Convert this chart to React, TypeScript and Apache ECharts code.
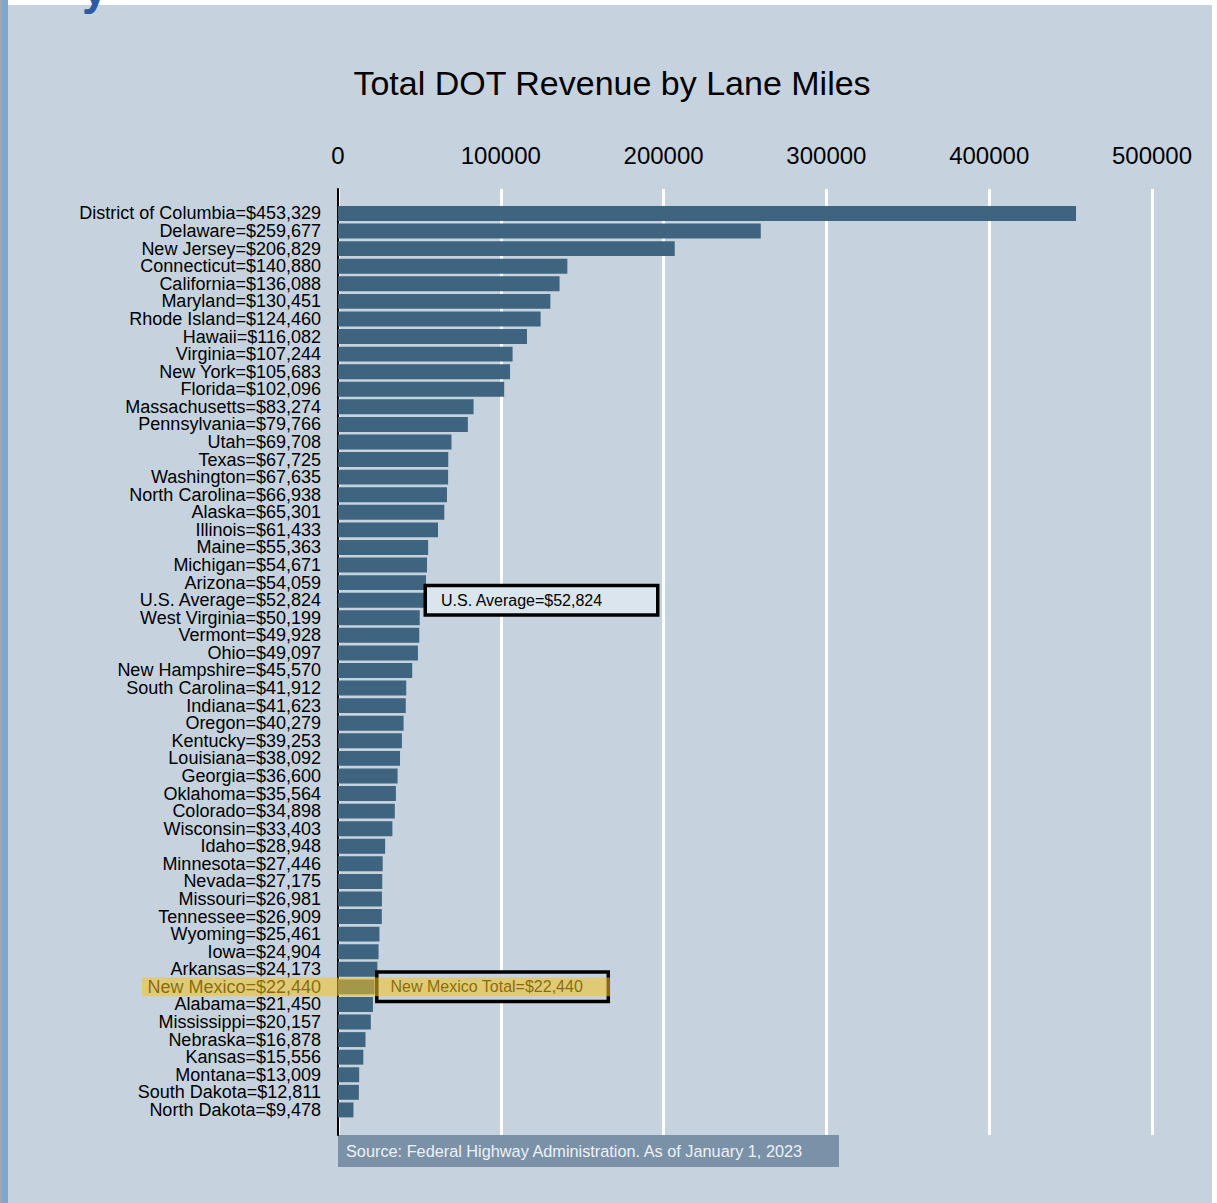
import React, { useEffect, useRef } from "react";
import * as echarts from "echarts";

const states: string[] = [
  "District of Columbia", "Delaware", "New Jersey", "Connecticut", "California", "Maryland",
  "Rhode Island", "Hawaii", "Virginia", "New York", "Florida", "Massachusetts", "Pennsylvania",
  "Utah", "Texas", "Washington", "North Carolina", "Alaska", "Illinois", "Maine", "Michigan",
  "Arizona", "U.S. Average", "West Virginia", "Vermont", "Ohio", "New Hampshire", "South Carolina",
  "Indiana", "Oregon", "Kentucky", "Louisiana", "Georgia", "Oklahoma", "Colorado", "Wisconsin",
  "Idaho", "Minnesota", "Nevada", "Missouri", "Tennessee", "Wyoming", "Iowa", "Arkansas",
  "New Mexico", "Alabama", "Mississippi", "Nebraska", "Kansas", "Montana", "South Dakota",
  "North Dakota",
];

const revenue: number[] = [
  453329, 259677, 206829, 140880, 136088, 130451, 124460, 116082, 107244, 105683, 102096,
  83274, 79766, 69708, 67725, 67635, 66938, 65301, 61433, 55363, 54671, 54059, 52824,
  50199, 49928, 49097, 45570, 41912, 41623, 40279, 39253, 38092, 36600, 35564, 34898,
  33403, 28948, 27446, 27175, 26981, 26909, 25461, 24904, 24173, 22440, 21450, 20157,
  16878, 15556, 13009, 12811, 9478,
];

const xTicks: number[] = [0, 100000, 200000, 300000, 400000, 500000];

const TITLE = "Total DOT Revenue by Lane Miles";
const SOURCE = "Source: Federal Highway Administration. As of January 1, 2023";
const AVG_NAME = "U.S. Average";
const HIGHLIGHT_NAME = "New Mexico";

const FONT = "'Liberation Sans', Arial, sans-serif";
const BG = "#c6d3df";
const BAR = "#3e6480";

const fmt = (v: number) => "$" + v.toLocaleString("en-US");
const categories = states.map((s, i) => `${s}=${fmt(revenue[i])}`);

export default function App() {
  const ref = useRef<HTMLDivElement>(null);

  useEffect(() => {
    document.body.style.margin = "0";
    if (!ref.current) return;
    const chart = echarts.init(ref.current, null, { renderer: "svg" });

    const avgIdx = states.indexOf(AVG_NAME);
    const nmIdx = states.indexOf(HIGHLIGHT_NAME);

    const data = revenue.map((v, i) => {
      if (i === avgIdx) {
        return {
          value: v,
          label: {
            show: true,
            position: "right",
            distance: 3,
            formatter: `${AVG_NAME}=${fmt(v)}`,
            fontFamily: FONT,
            fontSize: 16,
            color: "#000",
            backgroundColor: "#dbe5ed",
            borderColor: "#000",
            borderWidth: 3.5,
            padding: [6, 0, 4, 14],
            width: 215,
            lineHeight: 16,
          },
        };
      }
      if (i === nmIdx) {
        return {
          value: v,
          label: {
            show: true,
            position: "right",
            distance: 4,
            formatter: `${HIGHLIGHT_NAME} Total=${fmt(v)}`,
            fontFamily: FONT,
            fontSize: 16,
            color: "#000",
            backgroundColor: BG,
            borderColor: "#000",
            borderWidth: 3.5,
            padding: [4, 0, 6, 12],
            width: 216,
            lineHeight: 16,
          },
        };
      }
      return v;
    });

    const baseGraphics: any[] = [
      { id: "topWhite", type: "rect", shape: { x: 0, y: 0, width: 1217, height: 5 }, style: { fill: "#ffffff" }, silent: true },
      { id: "rightWhite", type: "rect", shape: { x: 1212, y: 0, width: 5, height: 1203 }, style: { fill: "#ffffff" }, silent: true },
      { id: "leftGray", type: "rect", shape: { x: 0, y: 0, width: 2, height: 1203 }, style: { fill: "#9ea7b1" }, silent: true },
      { id: "leftBlue", type: "rect", shape: { x: 2, y: 0, width: 6, height: 1203 }, style: { fill: "#80a7d0" }, silent: true },
      {
        id: "headY", type: "text", x: 82, y: 11,
        style: { text: "y", font: `bold 46px ${FONT}`, fill: "#2d5aa3", textVerticalAlign: "bottom" },
        silent: true,
      },
      {
        id: "srcBox", type: "rect", shape: { x: 338, y: 1135, width: 501, height: 32 },
        style: { fill: "#7b91a8" }, silent: true,
      },
      {
        id: "srcText", type: "text", x: 346, y: 1151,
        style: { text: SOURCE, font: `16.3px ${FONT}`, fill: "#edf1f5", textVerticalAlign: "middle" },
        silent: true,
      },
    ];

    const option: any = {
      animation: false,
      backgroundColor: BG,
      textStyle: { fontFamily: FONT },
      title: {
        text: TITLE,
        left: 607,
        top: 61,
        textAlign: "center",
        textStyle: { fontFamily: FONT, fontSize: 34, fontWeight: "normal", color: "#000" },
      },
      grid: [
        { left: 338, right: 65, top: 189, bottom: 68 },
        { left: 338, right: 65, top: 204.7, bottom: 84.3 },
      ],
      xAxis: [
        {
          gridIndex: 0,
          type: "value",
          position: "top",
          min: xTicks[0],
          max: xTicks[xTicks.length - 1],
          interval: xTicks[1] - xTicks[0],
          axisLine: { show: false },
          axisTick: { show: false },
          axisLabel: {
            fontFamily: FONT, fontSize: 24, color: "#000", margin: 22,
            formatter: (v: number) => String(v),
          },
          splitLine: { show: true, lineStyle: { color: "#ffffff", width: 3 } },
        },
        {
          gridIndex: 1,
          type: "value",
          min: xTicks[0],
          max: xTicks[xTicks.length - 1],
          show: false,
        },
      ],
      yAxis: [
        {
          gridIndex: 0,
          type: "value",
          min: 0,
          max: 1,
          axisLine: { show: true, onZero: false, lineStyle: { color: "#000", width: 2 } },
          axisTick: { show: false },
          axisLabel: { show: false },
          splitLine: { show: false },
        },
        {
          gridIndex: 1,
          type: "category",
          inverse: true,
          data: categories,
          axisLine: { show: false },
          axisTick: { show: false },
          axisLabel: { fontFamily: FONT, fontSize: 18, lineHeight: 17, color: "#000", margin: 17, interval: 0 },
          splitLine: { show: false },
        },
      ],
      series: [
        {
          type: "bar",
          xAxisIndex: 1,
          yAxisIndex: 1,
          data,
          barCategoryGap: "15%",
          itemStyle: { color: BAR },
          label: { show: false },
          z: 3,
        },
      ],
      graphic: { elements: baseGraphics },
    };

    chart.setOption(option);

    // Highlight band for New Mexico, positioned from the category scale
    const yc = chart.convertToPixel({ yAxisIndex: 1 } as any, categories[nmIdx]) as unknown as number;
    const band = (1203 - 204.7 - 84.3) / categories.length;
    if (typeof yc === "number" && isFinite(yc)) {
      chart.setOption({
        graphic: {
          elements: [
            ...baseGraphics,
            {
              id: "nmOverlay",
              type: "rect",
              z: 100,
              shape: { x: 142, y: yc - band / 2 - 0.5, width: 468, height: band + 1 },
              style: { fill: "rgba(245,195,30,0.55)" },
              silent: true,
            },
          ],
        },
      });
    }

    return () => chart.dispose();
  }, []);

  return <div ref={ref} style={{ width: 1217, height: 1203 }} />;
}
